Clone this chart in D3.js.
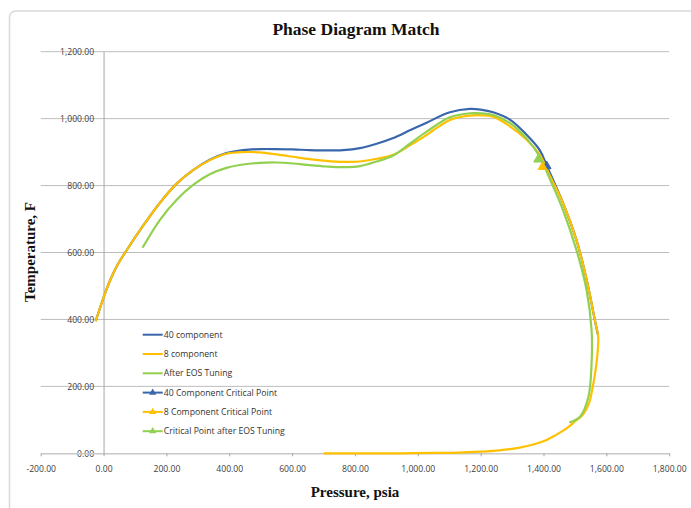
<!DOCTYPE html>
<html>
<head>
<meta charset="utf-8">
<script src="https://cdn.jsdelivr.net/npm/d3@7"></script>
<style>
  body { margin: 0; background: #fff; }
  svg { display: block; }
  .tick text { font-family: 'Open Sans', sans-serif; font-size: 8.6px; fill: #404040; }
  .legend text { font-family: 'Open Sans', sans-serif; font-size: 8.7px; fill: #333; }
  .title { font-family: 'Liberation Serif', serif; font-weight: bold; fill: #111; }
</style>
</head>
<body>
<svg id="chart" width="691" height="508"></svg>
<script>
// pressure (psia), temperature (F)
const comp40 = [
  [-25, 395], [-5, 452], [20, 515], [45, 564], [73, 606], [126, 680], [179, 748],
  [232, 805], [285, 846],
  [338, 877], [391, 897], [444, 906], [497, 909], [550, 909], [603, 908], [656, 906],
  [709, 905], [762, 906], [816, 912], [869, 925], [922, 942], [975, 965], [1028, 988],
  [1102, 1019], [1166, 1029], [1200, 1027], [1240, 1019], [1293, 997], [1346, 952],
  [1388, 906], [1410, 860], [1462, 748], [1505, 637], [1537, 520], [1563, 400], [1573, 355]
]
const comp8 = [
  [-25, 395], [-5, 452], [20, 515], [45, 564], [73, 606], [126, 680], [179, 748],
  [232, 805], [285, 846],
  [338, 876], [391, 895], [444, 900], [497, 899], [550, 893], [603, 886], [656, 879],
  [709, 874], [762, 871], [816, 872], [869, 880], [922, 892], [975, 920], [1028, 951],
  [1102, 996], [1166, 1009], [1200, 1010], [1240, 1006], [1293, 977], [1346, 937],
  [1388, 892], [1420, 830], [1462, 748], [1505, 637], [1537, 520], [1563, 400],
  [1574, 348], [1572, 300], [1566, 250], [1557, 200], [1545, 150], [1525, 115],
  [1500, 95], [1470, 72], [1440, 55], [1410, 40], [1370, 27], [1320, 16], [1260, 9],
  [1200, 5], [1130, 2], [1050, 1], [950, 0], [850, 0], [700, 0]
]
const tuned = [
  [124, 614], [179, 697], [232, 757], [285, 802], [338, 834], [391, 853], [444, 863],
  [497, 868], [550, 869], [603, 866], [656, 861], [709, 857], [762, 855], [816, 858],
  [869, 872], [922, 890], [975, 925], [1028, 961], [1102, 1004], [1166, 1016],
  [1200, 1016], [1240, 1011], [1293, 987], [1346, 941], [1388, 886], [1420, 820],
  [1462, 727], [1505, 607], [1537, 488], [1553, 368], [1553, 269], [1543, 169],
  [1516, 109], [1482, 92]
]
const critical40 = [[1410, 858]]
const critical8 = [[1397, 856]]
const criticalTuned = [[1383, 878]]

const xTicks = [-200, 0, 200, 400, 600, 800, 1000, 1200, 1400, 1600, 1800]
const yTicks = [0, 200, 400, 600, 800, 1000, 1200]

const seriesLines = [
  { name: '40 component', data: comp40, color: '#3a66ab' },
  { name: '8 component', data: comp8, color: '#ffc000' },
  { name: 'After EOS Tuning', data: tuned, color: '#92d050' }
]
const seriesPoints = [
  { name: '40 Component Critical Point', data: critical40, color: '#3a66ab' },
  { name: '8 Component Critical Point', data: critical8, color: '#ffc000' },
  { name: 'Critical Point after EOS Tuning', data: criticalTuned, color: '#92d050' }
]

d3.formatDefaultLocale({ decimal: '.', thousands: ',', grouping: [3], currency: ['$', ''], minus: '-' })
const fmt = d3.format(',.2f')

const svg = d3.select('#chart')

// chart frame
svg.append('rect')
  .attr('x', 9.5).attr('y', 11)
  .attr('width', 720).attr('height', 540)
  .attr('rx', 6)
  .attr('fill', '#fff')
  .attr('stroke', '#d9d9d9')
  .attr('stroke-width', 1.5)

const x = d3.scaleLinear().domain([-200, 1800]).range([40.7, 669.2])
const y = d3.scaleLinear().domain([0, 1200]).range([453.3, 51.7])

// gridlines
svg.append('g').selectAll('line')
  .data(yTicks.filter(d => d !== 0))
  .enter().append('line')
  .attr('x1', x(-200)).attr('x2', x(1800))
  .attr('y1', d => y(d)).attr('y2', d => y(d))
  .attr('stroke', '#bdbdbd')
  .attr('stroke-width', 1)

// vertical axis crossing at 0
const yAxis = svg.append('g')
  .attr('transform', `translate(${x(0)},0)`)
  .call(d3.axisLeft(y).tickValues(yTicks).tickFormat(fmt).tickSize(0).tickPadding(9.5))
yAxis.select('.domain').attr('stroke', '#a6a6a6')

const xAxis = svg.append('g')
  .attr('transform', `translate(0,${y(0)})`)
  .call(d3.axisBottom(x).tickValues(xTicks).tickFormat(fmt).tickSize(3).tickSizeOuter(0).tickPadding(10))
xAxis.select('.domain').attr('stroke', '#c8c8c8').attr('stroke-width', 1.5)
xAxis.selectAll('.tick line').attr('stroke', '#a6a6a6')

// curves
const line = d3.line()
  .x(d => x(d[0]))
  .y(d => y(d[1]))
  .curve(d3.curveCatmullRom.alpha(0.5))

svg.append('g').selectAll('path')
  .data(seriesLines)
  .enter().append('path')
  .attr('d', d => line(d.data))
  .attr('fill', 'none')
  .attr('stroke', d => d.color)
  .attr('stroke-width', 2.2)
  .attr('stroke-linejoin', 'round')

const tri = d3.symbol(d3.symbolTriangle)

svg.append('g').selectAll('path')
  .data(seriesPoints)
  .enter().append('path')
  .attr('transform', d => `translate(${x(d.data[0][0])},${y(d.data[0][1])})`)
  .attr('d', tri.size(34)())
  .attr('fill', d => d.color)
  .attr('stroke', d => d.color)

// legend
const legendItems = seriesLines.map(d => ({ ...d, marker: false }))
  .concat(seriesPoints.map(d => ({ ...d, marker: true })))

const legend = svg.append('g').attr('class', 'legend')
const rows = legend.selectAll('g')
  .data(legendItems)
  .enter().append('g')
  .attr('transform', (d, i) => `translate(142.7,${334.7 + i * 19.3})`)

rows.append('line')
  .attr('x1', 0).attr('x2', 20)
  .attr('stroke', d => d.color)
  .attr('stroke-width', 2)

rows.filter(d => d.marker).append('path')
  .attr('transform', 'translate(10,0)')
  .attr('d', d3.symbol(d3.symbolTriangle).size(22)())
  .attr('fill', d => d.color)

rows.append('text')
  .attr('x', 21)
  .attr('dy', '0.35em')
  .text(d => d.name)

// titles
svg.append('text')
  .attr('class', 'title')
  .attr('x', 356).attr('y', 35)
  .attr('text-anchor', 'middle')
  .attr('font-size', 17.5)
  .text('Phase Diagram Match')

svg.append('text')
  .attr('class', 'title')
  .attr('transform', 'translate(35,252) rotate(-90)')
  .attr('text-anchor', 'middle')
  .attr('font-size', 15)
  .text('Temperature, F')

svg.append('text')
  .attr('class', 'title')
  .attr('x', 355).attr('y', 497)
  .attr('text-anchor', 'middle')
  .attr('font-size', 15)
  .text('Pressure, psia')
</script>
</body>
</html>
